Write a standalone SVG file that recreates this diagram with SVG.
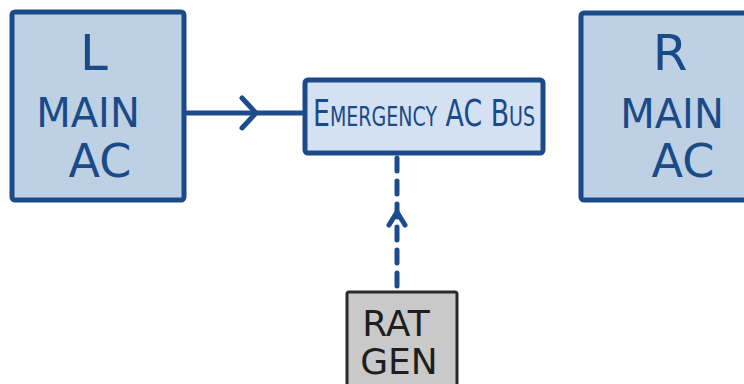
<svg xmlns="http://www.w3.org/2000/svg" width="744" height="384" viewBox="0 0 744 384">
  <style>
    .main { fill: #bdd0e4; stroke: #1b4a88; stroke-width: 5; stroke-linejoin: round; }
    .bus { fill: #d4e1f3; stroke: #1b4a88; stroke-width: 5; stroke-linejoin: round; }
    .gen { fill: #c9c9c9; stroke: #2a2a2a; stroke-width: 3; stroke-linejoin: round; }
    .lbl { font-family: "DejaVu Sans", "Noto Sans", sans-serif; fill: #1b4a88; text-anchor: middle; }
    .dark { font-family: "DejaVu Sans", "Noto Sans", sans-serif; fill: #1e1e1e; text-anchor: middle; }
    .wire { fill: none; stroke: #1d4c8e; stroke-width: 5; stroke-linecap: round; stroke-linejoin: round; }
    .dash { stroke-dasharray: 13 10; }
  </style>

  <g id="connectors">
    <!-- left main feeds the emergency bus -->
    <line class="wire" x1="185" y1="113" x2="305" y2="113"/>
    <polyline class="wire" points="242,98 256,113 242,128"/>
    <!-- ram air turbine generator feeds the bus (standby, dashed) -->
    <line class="wire dash" x1="397" y1="158" x2="397" y2="290"/>
    <polyline class="wire" points="389,225 397,212 405,225" stroke-width="6"/>
  </g>

  <g id="l-main-ac">
    <rect class="main" x="12" y="12" width="172" height="188" rx="3"/>
    <text class="lbl" x="94" y="70" font-size="50">L</text>
    <text class="lbl" x="88" y="127" font-size="40">MAIN</text>
    <text class="lbl" x="100" y="177" font-size="46">AC</text>
  </g>

  <g id="emergency-ac-bus">
    <rect class="bus" x="305" y="80" width="238" height="73" rx="3"/>
    <text class="lbl" x="424" y="126" font-size="38" font-variant="small-caps" textLength="222" lengthAdjust="spacingAndGlyphs">Emergency AC Bus</text>
  </g>

  <g id="r-main-ac">
    <rect class="main" x="581" y="13" width="180" height="187" rx="3"/>
    <text class="lbl" x="670" y="70" font-size="50">R</text>
    <text class="lbl" x="672" y="128" font-size="40">MAIN</text>
    <text class="lbl" x="683" y="177" font-size="46">AC</text>
  </g>

  <g id="rat-gen">
    <rect class="gen" x="347" y="292" width="110" height="100" rx="2"/>
    <text class="dark" x="396" y="336" font-size="36">RAT</text>
    <text class="dark" x="399" y="374" font-size="36">GEN</text>
  </g>
</svg>
